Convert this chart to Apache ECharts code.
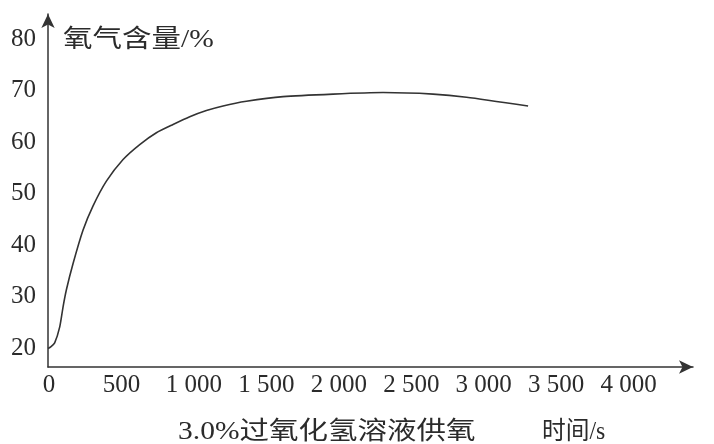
<!DOCTYPE html>
<html>
<head>
<meta charset="utf-8">
<script src="https://cdn.jsdelivr.net/npm/echarts@6/dist/echarts.min.js"></script>
<style>
html,body{margin:0;padding:0;background:#fff;}
#chart{width:714px;height:444px;}
</style>
</head>
<body>
<div id="chart"></div>
<script>
// Data
const timeS = [0, 19, 46, 81, 104, 127, 173, 242, 311, 403, 518, 633, 748, 863, 978, 1093, 1208, 1369, 1622, 1967, 2312, 2657, 2888, 3313];
const oxygenPct = [19.9, 20.2, 21.0, 24.1, 28.0, 31.3, 36.4, 42.9, 47.6, 52.4, 56.6, 59.5, 61.8, 63.4, 64.9, 66.1, 67.0, 67.9, 68.8, 69.3, 69.6, 69.3, 68.7, 67.0];
const xTicks = [0, 500, 1000, 1500, 2000, 2500, 3000, 3500, 4000];
const xTickLabels = ['0', '500', '1 000', '1 500', '2 000', '2 500', '3 000', '3 500', '4 000'];
const yTicks = [20, 30, 40, 50, 60, 70, 80];
const yTitle = '氧气含量/%';
const xTitle = '时间/s';
const caption = '3.0%过氧化氢溶液供氧';

const FONT = '"Liberation Serif", "Noto Sans CJK SC", serif';
const INK = '#2b2b2b';

const chart = echarts.init(document.getElementById('chart'), null, {renderer: 'canvas'});
chart.setOption({
  backgroundColor: '#ffffff',
  animation: false,
  grid: {left: 48, right: 21, top: 14, bottom: 77, containLabel: false},
  xAxis: {
    type: 'value',
    min: 0,
    max: 4451,
    splitLine: {show: false},
    axisTick: {show: false},
    axisLine: {show: true, onZero: false, symbol: ['none', 'arrow'], symbolSize: [10, 14],
      lineStyle: {color: '#333', width: 1.5}},
    axisLabel: {
      customValues: xTicks,
      margin: 6,
      color: INK,
      fontFamily: FONT,
      fontSize: 25,
      padding: [0, 0, 0, 2],
      formatter: function (v) { const i = xTicks.indexOf(v); return i >= 0 ? xTickLabels[i] : ''; }
    }
  },
  yAxis: {
    type: 'value',
    min: 16.31,
    max: 84.85,
    splitLine: {show: false},
    axisTick: {show: false},
    axisLine: {show: true, onZero: false, symbol: ['none', 'arrow'], symbolSize: [10, 14],
      lineStyle: {color: '#333', width: 1.5}},
    axisLabel: {
      customValues: yTicks,
      margin: 12,
      color: INK,
      fontFamily: FONT,
      fontSize: 25
    }
  },
  series: [{
    type: 'line',
    data: timeS.map((t, i) => [t, oxygenPct[i]]),
    smooth: 0.2,
    showSymbol: false,
    symbol: 'none',
    lineStyle: {color: '#333', width: 1.6}
  }],
  graphic: [
    {type: 'text', x: 63, y: 40, scaleX: 1.18, style: {text: yTitle, x: 0, y: 0, verticalAlign: 'middle', font: '25px ' + FONT, fill: INK}},
    {type: 'text', x: 178, y: 432, scaleX: 1.18, style: {text: caption, x: 0, y: 0, verticalAlign: 'middle', font: '25px ' + FONT, fill: INK}},
    {type: 'text', x: 542, y: 432, scaleX: 0.95, style: {text: xTitle, x: 0, y: 0, verticalAlign: 'middle', font: '25px ' + FONT, fill: INK}}
  ]
});
</script>
</body>
</html>
